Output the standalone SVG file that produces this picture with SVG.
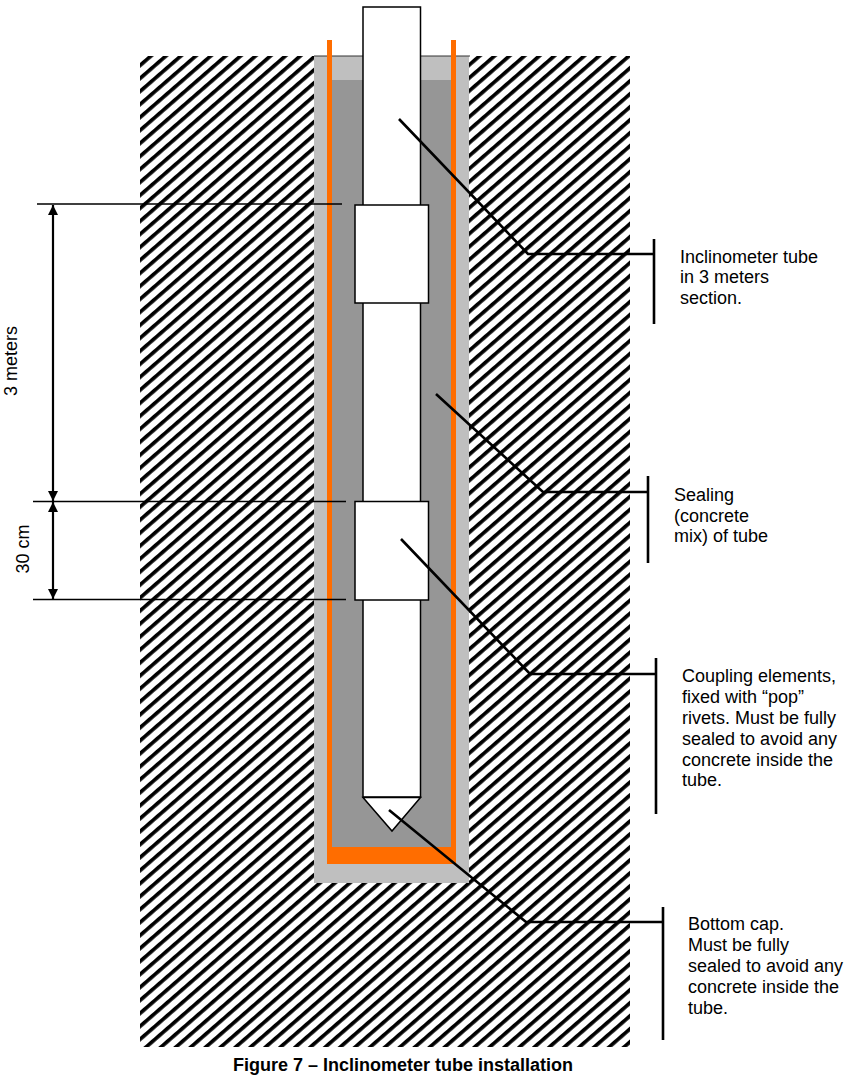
<svg xmlns="http://www.w3.org/2000/svg" width="853" height="1083" viewBox="0 0 853 1083">
<style>
text{font-family:"Liberation Sans",Arial,sans-serif;font-size:18px;fill:#000}
.w{fill:#fff;stroke:#000;stroke-width:1.5}
.c{fill:none;stroke:#000;stroke-width:2.6}
.d{fill:none;stroke:#000;stroke-width:1.4}
.t{fill:none;stroke:#000;stroke-width:2.2}
</style>
<defs>
<pattern id="h" width="20" height="9.8" patternUnits="userSpaceOnUse" patternTransform="translate(140 63) rotate(-41)">
<rect width="20" height="9.8" fill="#fff"/><rect width="20" height="3.7" fill="#000"/>
</pattern>
<marker id="a" viewBox="0 0 10 10" refX="10" refY="5" markerWidth="10" markerHeight="10" markerUnits="userSpaceOnUse" orient="auto-start-reverse"><path d="M0 0L10 5L0 10z" fill="#000"/></marker>
</defs>
<g id="ground"><rect x="140" y="56" width="490" height="991" fill="url(#h)"/></g>
<g id="borehole">
<rect x="314" y="56" width="155" height="827" fill="#bfbfbf"/>
<rect x="332" y="80" width="119" height="767" fill="#969696"/>
<path d="M314 56H470" stroke="#333" stroke-width="1"/>
<path d="M327 40h5V847H451V40h5V864H327z" fill="#ff6d00"/>
</g>
<g id="tube"><rect class="w" x="363" y="7" width="57.500" height="790"/><path class="w" d="M363 797.500H420.500L392 831z"/></g>
<g id="coupler-1"><rect class="w" x="355" y="205" width="73.500" height="98"/></g>
<g id="coupler-2"><rect class="w" x="355" y="501.500" width="73.500" height="98.500"/></g>
<g id="connectors">
<path class="d" d="M37 204H342M33 501.500H346M33 599.500H346"/>
<path class="t" d="M53 205V501" marker-start="url(#a)" marker-end="url(#a)"/>
<path class="t" d="M53 502V599" marker-start="url(#a)" marker-end="url(#a)"/>
<path class="c" d="M399 119L528 254H654M654 239V324"/>
<path class="c" d="M436 394L543 492H648M648 476V563"/>
<path class="c" d="M401 539L530 674H656M656 658V814"/>
<path class="c" d="M389 810L526 922H663M663 907V1040"/>
</g>
<g id="label-3m"><text transform="translate(17 361) rotate(-90)" text-anchor="middle">3 meters</text></g>
<g id="label-30cm"><text transform="translate(29 549) rotate(-90)" text-anchor="middle">30 cm</text></g>
<g id="label-tube"><text x="680" y="263">Inclinometer tube</text><text x="680" y="283">in 3 meters</text><text x="680" y="304">section.</text></g>
<g id="label-seal"><text x="674" y="501">Sealing</text><text x="674" y="522">(concrete</text><text x="674" y="542">mix) of tube</text></g>
<g id="label-coupling"><text x="682" y="682">Coupling elements,</text><text x="682" y="703">fixed with “pop”</text><text x="682" y="724">rivets. Must be fully</text><text x="682" y="745">sealed to avoid any</text><text x="682" y="766">concrete inside the</text><text x="682" y="786">tube.</text></g>
<g id="label-cap"><text x="688" y="930">Bottom cap.</text><text x="688" y="951">Must be fully</text><text x="688" y="972">sealed to avoid any</text><text x="688" y="993">concrete inside the</text><text x="688" y="1014">tube.</text></g>
<g id="caption"><text x="403" y="1071" text-anchor="middle" font-weight="bold">Figure 7 – Inclinometer tube installation</text></g>
</svg>
